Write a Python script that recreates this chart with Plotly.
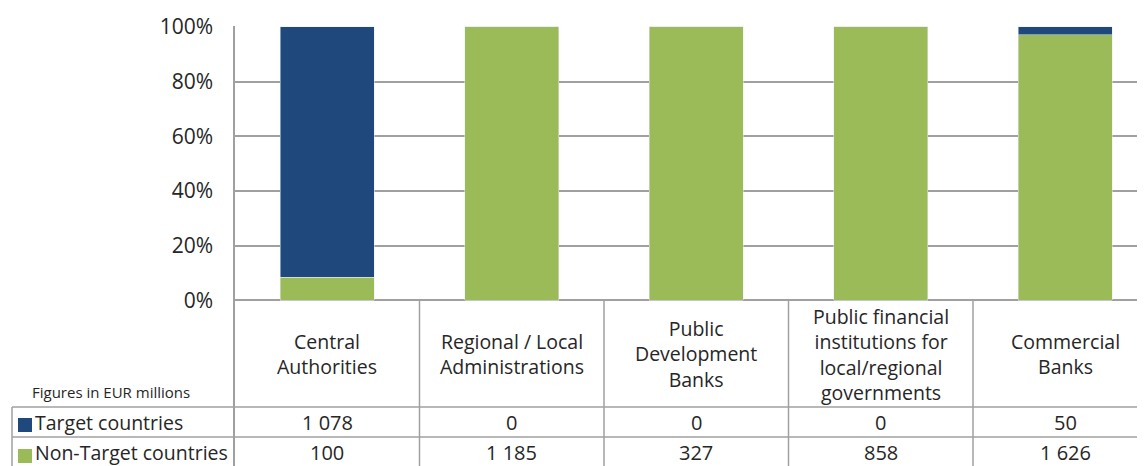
import plotly.graph_objects as go

categories = ["Central<br>Authorities", "Regional / Local<br>Administrations",
              "Public<br>Development<br>Banks",
              "Public financial<br>institutions for<br>local/regional<br>governments",
              "Commercial<br>Banks"]
target = [1078, 0, 0, 0, 50]
non_target = [100, 1185, 327, 858, 1626]
tick_vals = [0, 0.2, 0.4, 0.6, 0.8, 1.0]
tick_text = ["0%", "20%", "40%", "60%", "80%", "100%"]

NAVY = "#1F487C"
GREEN = "#9BBB59"
GRID = "#A0A0A0"
TXT = "#262626"
FONT = "Open Sans"

xs = list(range(len(categories)))

fig = go.Figure()
fig.add_bar(x=xs, y=non_target, marker_color=GREEN, width=0.51, name="Non-Target countries")
fig.add_bar(x=xs, y=target, marker_color=NAVY, width=0.51, name="Target countries")


def fmt(v):
    return f"{v:,}".replace(",", " ")


# page is offset 8px by the body margin; plot area: left 227, top 18 (figure px)
W, H, L, T = 1145, 466, 227, 18
PW, PH = W - L, H - T
y_bottom = -174 / 274
y_head = -0.197
y_row1 = -0.445
y_row2 = -0.557


def py(p):  # window pixel row -> paper y
    return (474 - p) / PH


def px(p):  # window pixel col -> paper x
    return (p - 8 - L) / PW


anns = []
for i, c in enumerate(categories):
    anns.append(dict(x=i, y=y_head, xref="x", yref="y", text=c, showarrow=False,
                     font=dict(size=19.5, color=TXT, family=FONT)))
    anns.append(dict(x=i, y=y_row1, xref="x", yref="y", text=fmt(target[i]), showarrow=False,
                     font=dict(size=20, color=TXT, family=FONT)))
    anns.append(dict(x=i, y=y_row2, xref="x", yref="y", text=fmt(non_target[i]), showarrow=False,
                     font=dict(size=20, color=TXT, family=FONT)))

anns.append(dict(x=px(30), y=-0.335, xref="paper", yref="y", text="Figures in EUR millions",
                 showarrow=False, xanchor="left", font=dict(size=15, color=TXT, family=FONT)))
anns.append(dict(x=px(33), y=y_row1, xref="paper", yref="y", text="Target countries",
                 showarrow=False, xanchor="left", font=dict(size=19.5, color=TXT, family=FONT)))
anns.append(dict(x=px(33), y=y_row2, xref="paper", yref="y", text="Non-Target countries",
                 showarrow=False, xanchor="left", font=dict(size=19.5, color=TXT, family=FONT)))

shapes = []
line = dict(color=GRID, width=1.5)
for b in [0.5, 1.5, 2.5, 3.5]:
    shapes.append(dict(type="line", xref="x", yref="y", x0=b, x1=b, y0=0, y1=y_bottom, line=line))
for p in [407, 437]:
    shapes.append(dict(type="line", xref="paper", yref="paper", x0=px(12), x1=1,
                       y0=py(p), y1=py(p), line=line))
shapes.append(dict(type="line", xref="paper", yref="paper", x0=px(12), x1=px(12),
                   y0=0, y1=py(407), line=line))
# legend keys in the table
for col, top in [(NAVY, 418), (GREEN, 449)]:
    shapes.append(dict(type="rect", xref="paper", yref="paper", x0=px(18), x1=px(32),
                       y0=py(top + 14), y1=py(top), fillcolor=col, line=dict(width=0)))

fig.update_layout(
    barmode="stack", barnorm="fraction",
    width=W, height=H,
    margin=dict(l=L, r=0, t=T, b=0),
    paper_bgcolor="white", plot_bgcolor="white",
    showlegend=False,
    font=dict(family=FONT, color=TXT),
    annotations=anns, shapes=shapes,
    xaxis=dict(range=[-0.5, -0.5 + PW / 184.5], showticklabels=False, showgrid=False,
               zeroline=False, showline=False, fixedrange=True),
    yaxis=dict(range=[y_bottom, 1.003], tickvals=tick_vals, ticktext=tick_text,
               showgrid=True, gridcolor=GRID, gridwidth=1.5,
               zeroline=True, zerolinecolor=GRID, zerolinewidth=1.5,
               showline=True, linecolor=GRID, linewidth=1.5,
               ticks="", ticklabelstandoff=16, tickfont=dict(size=21, color=TXT, family=FONT)),
)

fig.write_html("out.html")
